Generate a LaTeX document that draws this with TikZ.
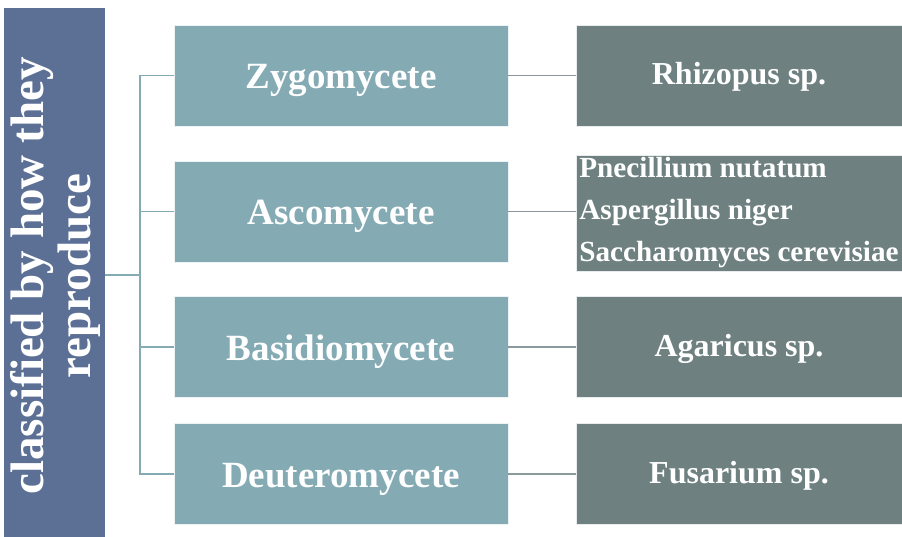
\documentclass[tikz,border=0pt]{standalone}
\usepackage{fontspec}
\setmainfont{Liberation Serif}
\definecolor{leftc}{RGB}{92,112,150}
\definecolor{midc}{RGB}{132,170,180}
\definecolor{rightc}{RGB}{110,128,128}
\definecolor{trunkc}{RGB}{132,170,180}
\definecolor{linkc}{RGB}{138,154,156}
\begin{document}
\begin{tikzpicture}[x=1pt,y=-1pt,
  leftbox/.style={fill=leftc,draw=white,line width=0.6pt,minimum width=102pt,minimum height=530pt,inner sep=0pt},
  midbox/.style={fill=midc,draw=white!85!midc,line width=0.8pt,minimum width=334pt,minimum height=101pt,inner sep=0pt,text=white,font=\fontsize{37}{40}\selectfont\bfseries,text height=29pt,text depth=3pt},
  rightbox/.style={fill=rightc,draw=white!85!rightc,line width=0.8pt,minimum width=326pt,minimum height=101pt,inner sep=0pt,text=white,font=\fontsize{32}{36}\selectfont\bfseries,text height=22pt,text depth=3pt},
  trunk/.style={draw=trunkc,line width=1.4pt},
  link/.style={draw=linkc,line width=1.4pt}]
\useasboundingbox (0,0) rectangle (902,537);
\fill[white] (0,0) rectangle (902,537);
\node[leftbox] (L) at (54,272) {};
\node[rotate=90,text=white,align=center,font=\fontsize{47}{47}\selectfont\bfseries] (Lt) at (55,276) {classified by how they\\reproduce};
\node[midbox] (m1) at (341,75.5) {Zygomycete};
\node[midbox] (m2) at (341,211.5) {Ascomycete};
\node[midbox] (m3) at (341,347) {Basidiomycete};
\node[midbox] (m4) at (341,474) {Deuteromycete};
\node[rightbox] (r1) at (739,75.5) {Rhizopus sp.};
\node[rightbox,minimum height=116pt,align=left,font=\fontsize{29.2}{42}\selectfont\bfseries,text height=,text depth=] (r2) at (739,213) {Pnecillium nutatum\\Aspergillus niger\\Saccharomyces cerevisiae};
\node[rightbox] (r3) at (739,347) {Agaricus sp.};
\node[rightbox] (r4) at (739,474) {Fusarium sp.};
\coordinate (j) at (140,275);
\draw[trunk] (L.east |- j) -- (j);
\draw[trunk] (j) |- (m1.west);
\draw[trunk] (j) |- (m2.west);
\draw[trunk] (j) |- (m3.west);
\draw[trunk] (j) |- (m4.west);
\draw[link] (m1.east) -- (m1.east -| r1.west);
\draw[link] (m2.east) -- (m2.east -| r2.west);
\draw[link] (m3.east) -- (m3.east -| r3.west);
\draw[link] (m4.east) -- (m4.east -| r4.west);
\end{tikzpicture}
\end{document}
